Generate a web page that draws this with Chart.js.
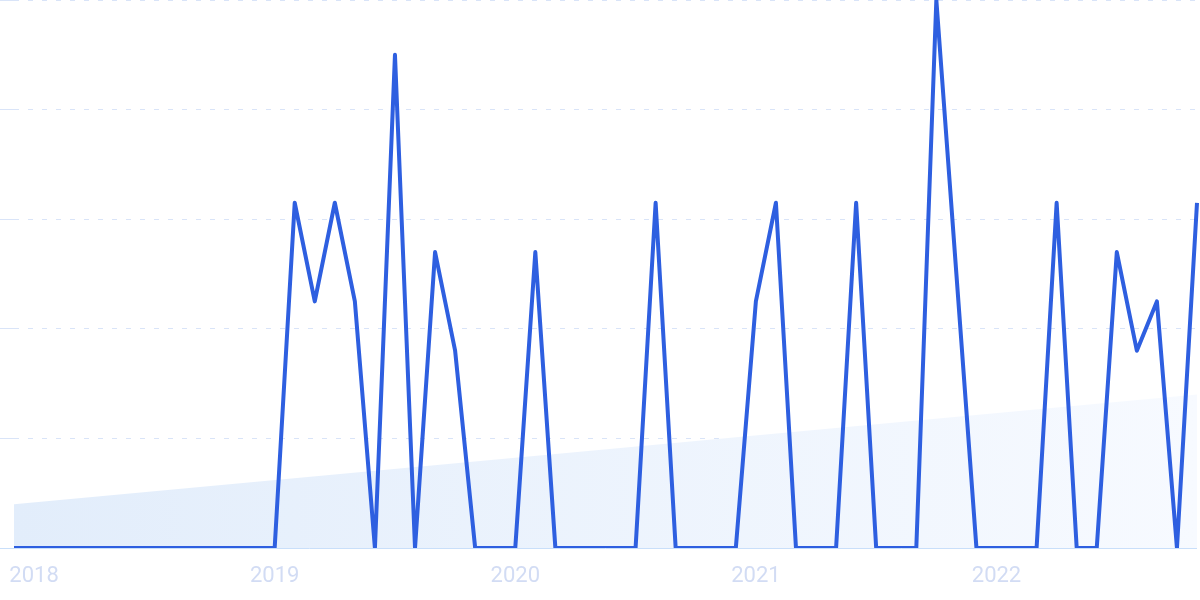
<!DOCTYPE html>
<html>
<head>
<meta charset="utf-8">
<script src="https://cdn.jsdelivr.net/npm/chart.js@4"></script>
<style>
  html, body { margin: 0; padding: 0; background: #fff; overflow: hidden; }
  #wrap { width: 1200px; height: 600px; }
</style>
</head>
<body>
<div id="wrap"><canvas id="trend_chart"></canvas></div>
<script>
// monthly points, Dec 2017 .. Nov 2022
const months = [
  "2017-12",
  "2018-01", "2018-02", "2018-03", "2018-04", "2018-05", "2018-06", "2018-07", "2018-08", "2018-09", "2018-10", "2018-11", "2018-12",
  "2019-01", "2019-02", "2019-03", "2019-04", "2019-05", "2019-06", "2019-07", "2019-08", "2019-09", "2019-10", "2019-11", "2019-12",
  "2020-01", "2020-02", "2020-03", "2020-04", "2020-05", "2020-06", "2020-07", "2020-08", "2020-09", "2020-10", "2020-11", "2020-12",
  "2021-01", "2021-02", "2021-03", "2021-04", "2021-05", "2021-06", "2021-07", "2021-08", "2021-09", "2021-10", "2021-11", "2021-12",
  "2022-01", "2022-02", "2022-03", "2022-04", "2022-05", "2022-06", "2022-07", "2022-08", "2022-09", "2022-10", "2022-11",
];

const interest = [
  0,
  0, 0, 0, 0, 0, 0, 0, 0, 0, 0, 0, 0,
  0, 63, 45, 63, 45, 0, 90, 0, 54, 36, 0, 0,
  0, 54, 0, 0, 0, 0, 0, 63, 0, 0, 0, 0,
  45, 63, 0, 0, 0, 63, 0, 0, 0, 100, 50, 0,
  0, 0, 0, 63, 0, 0, 54, 36, 45, 0, 63,
];

// trend area: first and last value only
const trendStart = 8;
const trendEnd = 28;
const trend = months.map((m, i) =>
  i === 0 ? trendStart : i === months.length - 1 ? trendEnd : null
);

const ctx = document.getElementById("trend_chart").getContext("2d");

function trendFill(context) {
  const area = context.chart.chartArea;
  if (!area) return "#e8f0fc";
  const g = context.chart.ctx.createLinearGradient(area.left, 0, area.right, 0);
  g.addColorStop(0, "#e2edfb");
  g.addColorStop(1, "#f7faff");
  return g;
}

new Chart(ctx, {
  type: "line",
  data: {
    labels: months,
    datasets: [
      {
        data: interest,
        borderColor: "#2e5fe0",
        borderWidth: 4,
        borderJoinStyle: "round",
        tension: 0,
        pointRadius: 0,
        fill: false,
        order: 1,
      },
      {
        data: trend,
        spanGaps: true,
        borderWidth: 0,
        pointRadius: 0,
        fill: "origin",
        backgroundColor: trendFill,
        order: 2,
      },
    ],
  },
  options: {
    responsive: true,
    maintainAspectRatio: false,
    animation: false,
    layout: { padding: { top: 0, right: 3, bottom: 0, left: 0 } },
    plugins: { legend: { display: false }, tooltip: { enabled: false } },
    scales: {
      x: {
        offset: false,
        grid: { display: false, drawTicks: false },
        border: { display: false },
        ticks: {
          autoSkip: false,
          maxRotation: 0,
          padding: 15,
          color: "#d2dcf4",
          font: { family: "Roboto", size: 22 },
          callback: function (val, i) {
            const m = months[i];
            return m.endsWith("-01") ? m.slice(0, 4) : "";
          },
        },
        afterFit: function (scale) {
          scale.height = 52;
          scale.paddingLeft = 0;
          scale.paddingRight = 0;
        },
      },
      y: {
        min: 0,
        max: 100,
        ticks: { display: false, stepSize: 20 },
        grid: {
          drawTicks: true,
          tickLength: 14,
          lineWidth: 1,
          color: (c) => (c.tick && c.tick.value === 0 ? "#c9dffa" : "#d9e4f8"),
        },
        border: {
          display: false,
          dash: (c) => (c.tick && c.tick.value === 0 ? [] : [5, 9]),
        },
      },
    },
  },
});
</script>
</body>
</html>
